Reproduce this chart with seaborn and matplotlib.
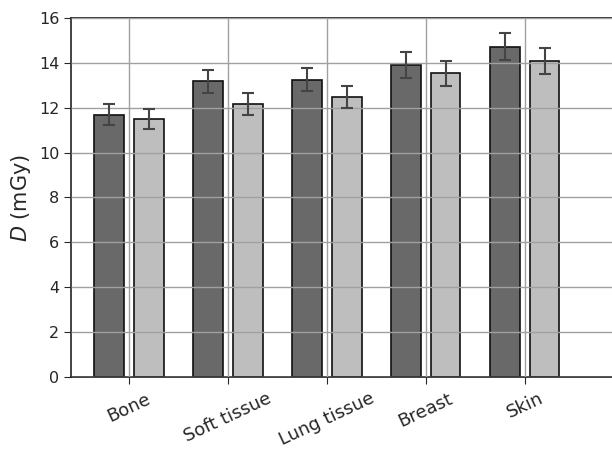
import pandas as pd
import numpy as np
import matplotlib
matplotlib.use('Agg')
import matplotlib.pyplot as plt
import seaborn as sns

# data
tissues = ['Bone', 'Soft tissue', 'Lung tissue', 'Breast', 'Skin']
series = ['A', 'B']
dose_a = [11.68, 13.18, 13.25, 13.90, 14.71]
dose_b = [11.50, 12.16, 12.47, 13.54, 14.08]
err_a = [0.47, 0.52, 0.52, 0.57, 0.60]
err_b = [0.46, 0.50, 0.49, 0.56, 0.57]

df = pd.DataFrame({
    'tissue': tissues * 2,
    'series': [series[0]] * 5 + [series[1]] * 5,
    'dose': dose_a + dose_b,
    'err': err_a + err_b,
})

sns.set_style('ticks')
plt.rcParams['font.family'] = ['DejaVu Sans']

fig = plt.figure(figsize=(6.12, 4.49), dpi=100)
ax = fig.add_axes([0.116, 0.1604, 0.887, 0.7996])

sns.barplot(data=df, x='tissue', y='dose', hue='series', order=tissues,
            hue_order=series, palette=['#696969', '#bebebe'], gap=0.25,
            errorbar=None, edgecolor='#111111', linewidth=1.2, ax=ax,
            legend=False)

# error bars at the bar centres
bars = [p for p in ax.patches if p.get_height() > 0]
for p, row in zip(bars, df.itertuples()):
    ax.errorbar(p.get_x() + p.get_width() / 2, p.get_height(), yerr=row.err,
                fmt='none', ecolor='#444444', elinewidth=1.5, capsize=4,
                capthick=1.5, zorder=5)

ax.set_ylim(0, 16)
ax.set_xlim(-0.586, 4.9)
ax.set_yticks(np.arange(0, 17, 2))
ax.grid(True, color='#a0a0a0', linewidth=1.0)
ax.set_axisbelow(False)
for s in ax.spines.values():
    s.set_linewidth(1.2)
    s.set_color('#222222')
ax.set_xlabel('')
ax.set_ylabel('$D$ (mGy)', fontsize=15)
ax.tick_params(axis='y', labelsize=11.5, length=5)
ax.tick_params(axis='x', labelsize=13, length=5, rotation=25, pad=4)

fig.savefig('out.png', dpi=100)
